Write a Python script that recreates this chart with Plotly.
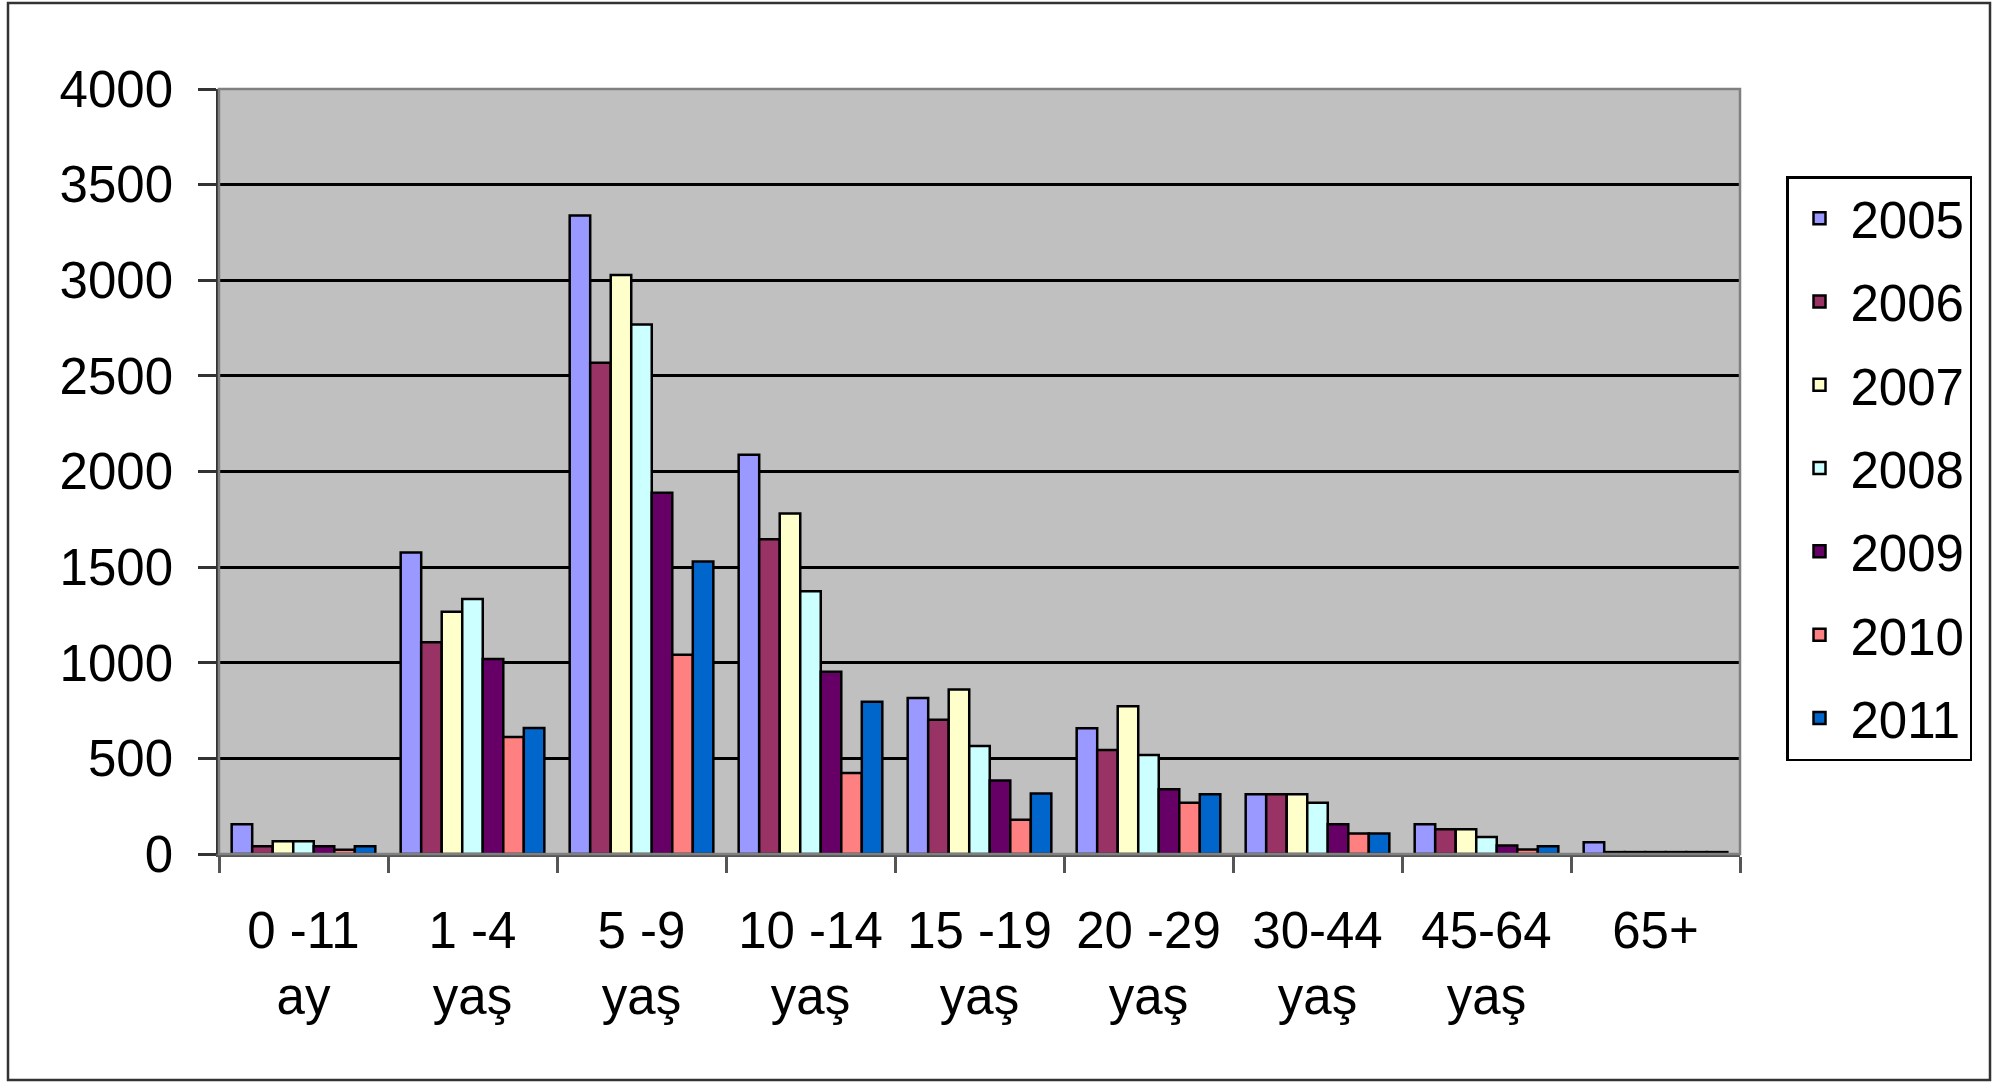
import plotly.graph_objects as go

categories = ["0 -11<br>ay", "1 -4<br>yaş", "5 -9<br>yaş", "10 -14<br>yaş", "15 -19<br>yaş",
              "20 -29<br>yaş", "30-44<br>yaş", "45-64<br>yaş", "65+"]
years = ["2005", "2006", "2007", "2008", "2009", "2010", "2011"]

v2005 = [155, 1577, 3339, 2087, 816, 658, 312, 155, 62]
v2006 = [40, 1107, 2569, 1646, 702, 544, 312, 130, 10]
v2007 = [67, 1267, 3028, 1780, 860, 772, 312, 130, 10]
v2008 = [67, 1333, 2768, 1374, 565, 518, 268, 89, 10]
v2009 = [40, 1019, 1889, 953, 384, 339, 155, 45, 10]
v2010 = [22, 612, 1042, 423, 179, 268, 107, 23, 10]
v2011 = [40, 659, 1530, 796, 316, 312, 107, 41, 10]
series = [v2005, v2006, v2007, v2008, v2009, v2010, v2011]

colors = ["#9999FF", "#993366", "#FFFFCC", "#CCFFFF", "#660066", "#FF8080", "#0066CC"]

fig = go.Figure()
for name, vals, col in zip(years, series, colors):
    fig.add_trace(go.Bar(
        x=categories, y=vals, name=name, legendgroup=name,
        marker=dict(color=col, line=dict(color="black", width=2.5)),
    ))

W, H = 1995, 1083
L, R, T, B = 219, 1740, 89, 854
pw, ph = R - L, B - T

def px(x):
    return (x - L) / pw

def py(y):
    return (B - y) / ph

font = "Liberation Sans, Arial, sans-serif"

fig.update_layout(
    width=W, height=H,
    margin=dict(l=L, r=W - R, t=T, b=H - B),
    paper_bgcolor="white",
    plot_bgcolor="#C0C0C0",
    barmode="group",
    bargap=0.15,
    bargroupgap=0,
    font=dict(family=font, size=51, color="black"),
    showlegend=True,
    legend=dict(
        x=px(1786), y=py(176), xanchor="left", yanchor="top",
        bgcolor="white", bordercolor="black", borderwidth=2.5,
        font=dict(size=51), tracegroupgap=14, traceorder="grouped",
        itemwidth=52,
    ),
    xaxis=dict(
        showgrid=False, showline=True, linecolor="#555555", linewidth=2.5,
        ticks="outside", tickson="boundaries", ticklen=16, tickwidth=2.5,
        tickcolor="#555555", ticklabelstandoff=30, tickfont=dict(size=51),
    ),
    yaxis=dict(
        range=[0, 4000], tickvals=[0, 500, 1000, 1500, 2000, 2500, 3000, 3500, 4000],
        showgrid=True, gridcolor="black", gridwidth=2.5,
        showline=True, linecolor="#333333", linewidth=2.5,
        ticks="outside", ticklen=18, tickwidth=2.5, tickcolor="#333333",
        ticklabelstandoff=15, zeroline=False, tickfont=dict(size=51),
    ),
    shapes=[
        dict(type="rect", xref="paper", yref="paper", x0=0, x1=1, y0=0, y1=1,
             line=dict(color="#808080", width=2.5), layer="above"),
        dict(type="rect", xref="paper", yref="paper",
             x0=px(8), x1=px(1990), y0=py(1080), y1=py(3),
             line=dict(color="#333333", width=2.5)),
    ],
)

fig.write_html("out.html")
